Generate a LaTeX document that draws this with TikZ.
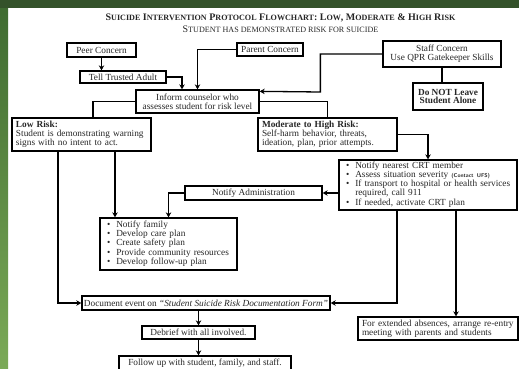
\documentclass[tikz,border=0pt]{standalone}
\usepackage{fontspec}
\setmainfont{Liberation Serif}
\usetikzlibrary{arrows.meta}
\definecolor{framegreen}{HTML}{34522A}
\definecolor{sidegreenA}{HTML}{3E6A30}
\definecolor{sidegreenB}{HTML}{7BAA57}
\definecolor{inkgray}{HTML}{262626}
% fake small caps: big first letter, smaller rest
\newcommand\capsc[2]{#1{\fontsize{8.1}{9}\selectfont #2}}
\newcommand\capss[2]{#1{\fontsize{8.1}{9}\selectfont #2}}
\begin{document}
\begin{tikzpicture}[x=1pt,y=-1pt,
  box/.style={draw, line width=1.3pt, inner sep=2pt, align=center, text=inkgray,
    font=\fontsize{9.3}{8.9}\selectfont},
  lbox/.style={box, align=left, inner xsep=4pt},
  con/.style={line width=1.3pt},
  arr/.style={con, -{Stealth[length=5pt,width=5.5pt]}}]
\useasboundingbox (0,0) rectangle (519,369);
% frame of the screenshot
\fill[white] (0,0) rectangle (519,369);
\shade[top color=sidegreenA, bottom color=sidegreenB] (0,0) rectangle (8,369);
\fill[framegreen] (0,0) rectangle (519,8);

% title
\node[font=\bfseries\fontsize{10}{11}\selectfont, text=inkgray] (title) at (280.5,18)
  {\capsc{S}{UICIDE} \capsc{I}{NTERVENTION} \capsc{P}{ROTOCOL} \capsc{F}{LOWCHART}: \capsc{L}{OW}, \capsc{M}{ODERATE} \& \capsc{H}{IGH} \capsc{R}{ISK}};
\node[font=\fontsize{10}{11}\selectfont, text=inkgray] (subtitle) at (280.5,29)
  {\capss{S}{TUDENT HAS DEMONSTRATED RISK FOR SUICIDE}};

% concerns
\node[box, minimum width=69, minimum height=14] (peer) at (101.5,50) {Peer Concern};
\node[box, minimum width=86, minimum height=12] (tell) at (123,77) {Tell Trusted Adult};
\node[box, minimum width=66, minimum height=13] (parent) at (270,49.5) {Parent Concern};
\node[box, minimum width=118, minimum height=26] (staff) at (442,54) {Staff Concern\\Use QPR Gatekeeper Skills};
\node[box, minimum width=70, minimum height=27, font=\bfseries\fontsize{9.3}{8.9}\selectfont] (alone) at (448,96.5) {Do NOT Leave\\Student Alone};
\node[box, minimum width=123, minimum height=23] (inform) at (197.5,101.5) {Inform counselor who\\assesses student for risk level};

% risk levels
\node[lbox, text width=131, minimum height=33] (low) at (81.5,134.5)
  {\textbf{Low Risk:}\\Student is demonstrating warning\\signs with no intent to act.};
\node[lbox, text width=131, minimum height=33] (mod) at (327.5,134.5)
  {\textbf{Moderate to High Risk:}\\Self-harm behavior, threats,\\ideation, plan, prior attempts.};

\node[lbox, text width=170, minimum height=50] (crt) at (428,185)
  {\begin{tabular}{@{\hspace{3pt}}l@{\hspace{6pt}}l@{}}
   \textbullet & Notify nearest CRT member\\
   \textbullet & Assess situation severity {\sffamily\bfseries\fontsize{5.5}{6}\selectfont(Contact UFS)}\\
   \textbullet & If transport to hospital or health services\\
               & required, call 911\\
   \textbullet & If needed, activate CRT plan
   \end{tabular}};
\node[box, minimum width=137, minimum height=14] (admin) at (253.5,193) {Notify Administration};
\node[lbox, text width=129, minimum height=52] (plans) at (168.5,244)
  {\begin{tabular}{@{\hspace{3pt}}l@{\hspace{6pt}}l@{}}
   \textbullet & Notify family\\
   \textbullet & Develop care plan\\
   \textbullet & Create safety plan\\
   \textbullet & Provide community resources\\
   \textbullet & Develop follow-up plan
   \end{tabular}};

% closing steps
\node[box, minimum width=248, minimum height=14] (doc) at (206,303)
  {Document event on \textit{``Student Suicide Risk Documentation Form''}};
\node[lbox, text width=152, minimum height=23] (reentry) at (438,328.5)
  {For extended absences, arrange re-entry\\meeting with parents and students};
\node[box, minimum width=113, minimum height=13] (debrief) at (198.5,332.5) {Debrief with all involved.};
\node[box, minimum width=172, minimum height=14] (follow) at (205,363) {Follow up with student, family, and staff.};

% connectors
\draw[arr] (peer.south) -- (peer.south |- tell.north);
\draw[arr] (tell.east) -| ([xshift=-15.5pt]inform.north);
\draw[arr] (parent.west) -| (inform.north);
\draw[arr] (staff.west) -| ++(-62,38) -- ([yshift=-2pt]inform.north east);
\draw[con] (staff.south) -- (staff.south |- alone.north);
\draw[con] (inform.west) -| ([xshift=11.5pt]low.north);
\draw[con] (inform.east) -| (mod.north);
\draw[arr] (mod.east) -| (crt.north);
\draw[arr] (crt.west |- admin.east) -- (admin.east);
\draw[arr] (admin.west) -| (plans.north);
\draw[arr] ([xshift=33.5pt]low.south) -- ([xshift=33.5pt]low.south |- plans.north);
\draw[arr] ([xshift=-23.5pt]low.south) |- (doc.west);
\draw[arr] ([xshift=-31pt]crt.south) |- (doc.east);
\draw[arr] ([xshift=28pt]crt.south) -- ([xshift=28pt]crt.south |- reentry.north);
\draw[arr] (debrief.north |- doc.south) -- (debrief.north);
\draw[arr] (debrief.south) -- (debrief.south |- follow.north);
\end{tikzpicture}
\end{document}
